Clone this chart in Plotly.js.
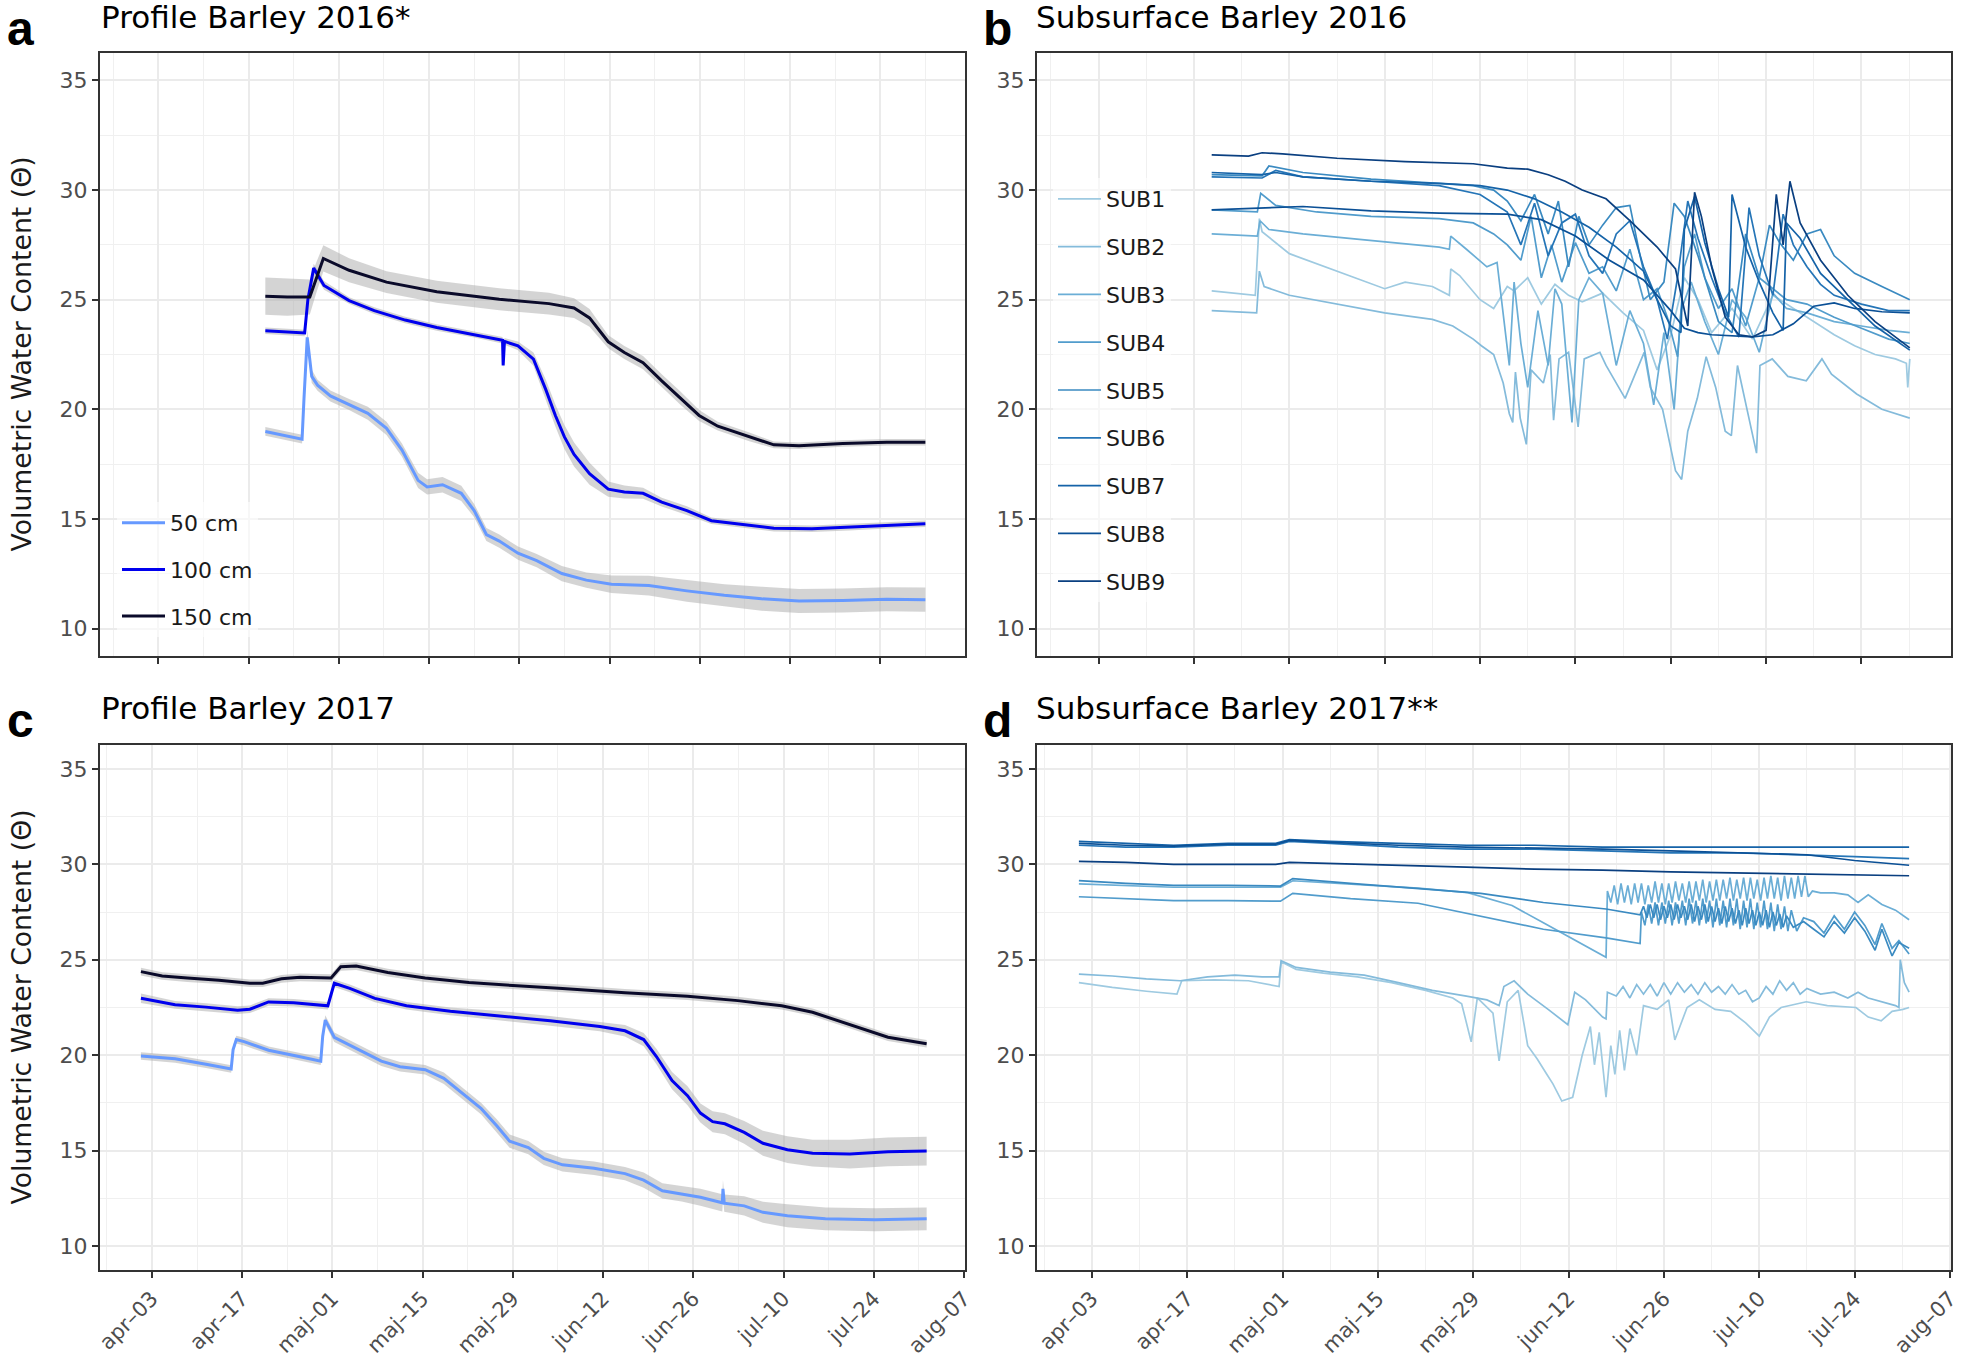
<!DOCTYPE html>
<html>
<head>
<meta charset="utf-8">
<script src="https://cdn.plot.ly/plotly-3.0.1.min.js"></script>
<style>html,body{margin:0;padding:0;background:#fff;}#chart{width:1961px;height:1359px;}</style>
</head>
<body>
<div id="chart"></div>
<script>
// x values: days after 3 April of the panel's year; y: volumetric water content; third value (profiles): band half-width
const tickDays = [0, 14, 28, 42, 56, 70, 84, 98, 112, 126];
const tickLabels = ["apr–03", "apr–17", "maj–01", "maj–15", "maj–29", "jun–12", "jun–26", "jul–10", "jul–24", "aug–07"];
const minorDays = [-7, 7, 21, 35, 49, 63, 77, 91, 105, 119];
const yTicks = [10, 15, 20, 25, 30, 35];
const yMinor = [12.5, 17.5, 22.5, 27.5, 32.5];

const depthNames = ["50 cm", "100 cm", "150 cm"];
const depthColors = ["#6699FF", "#0000EE", "#0A0A2A"];
const subNames = ["SUB1", "SUB2", "SUB3", "SUB4", "SUB5", "SUB6", "SUB7", "SUB8", "SUB9"];
const subColors = ["#9ECAE1", "#84BBDB", "#6BAED6", "#519CCC", "#3A8AC1", "#2575B7", "#1563A8", "#0B5096", "#0A3F80"];

// ---- Profile Barley 2016 ----
const prof2016_50 = [[16.6,18.99,0.2],[19,18.85,0.2],[22.3,18.64,0.2],[22.6,20.5,0.3],[23.1,23.28,0.35],[23.8,21.5,0.3],[24.7,21.1,0.25],[26.7,20.61,0.25],[29.6,20.22,0.25],[32.5,19.82,0.3],[35.4,19.13,0.3],[37.8,18.14,0.3],[40.3,16.76,0.35],[41.7,16.46,0.35],[44.1,16.56,0.35],[47,16.17,0.35],[49,15.38,0.3],[50.9,14.29,0.3],[52.9,13.99,0.3],[55.8,13.44,0.3],[58.7,13.1,0.3],[62.6,12.51,0.35],[66.4,12.21,0.35],[70.3,12.02,0.4],[76.1,11.96,0.45],[82,11.72,0.5],[87.8,11.52,0.5],[93.6,11.36,0.55],[99.4,11.26,0.55],[106.2,11.28,0.55],[113,11.34,0.55],[119,11.32,0.55]];
const prof2016_100 = [[16.6,23.58,0.15],[19,23.55,0.15],[22.7,23.48,0.15],[23.2,25.0,0.2],[24.1,26.44,0.2],[25.7,25.65,0.2],[29.6,24.96,0.15],[33.5,24.5,0.15],[38.3,24.07,0.15],[43.2,23.73,0.15],[49,23.42,0.15],[53.4,23.15,0.15],[53.5,22.0,0.15],[53.7,23.1,0.15],[55.8,22.89,0.2],[58.2,22.29,0.3],[60.1,20.91,0.45],[61.6,19.72,0.5],[63,18.74,0.55],[64.5,17.94,0.55],[66.9,17.06,0.5],[69.8,16.36,0.35],[72.3,16.23,0.3],[75.2,16.17,0.25],[78.1,15.77,0.2],[82,15.38,0.2],[85.8,14.92,0.15],[89.7,14.78,0.15],[95.5,14.58,0.15],[101.4,14.55,0.15],[107.2,14.62,0.15],[113,14.72,0.15],[119,14.78,0.15]];
const prof2016_150 = [[16.6,25.16,0.85],[20,25.12,0.85],[23.5,25.12,0.8],[24.5,26.0,0.7],[25.6,26.88,0.6],[29.6,26.34,0.55],[35.4,25.8,0.5],[43.2,25.36,0.5],[52.9,25.02,0.5],[60.6,24.82,0.5],[64.5,24.62,0.45],[66.9,24.17,0.4],[69.8,23.08,0.3],[72.3,22.59,0.3],[75.2,22.13,0.3],[78.1,21.3,0.3],[81,20.51,0.3],[83.9,19.72,0.25],[86.8,19.23,0.2],[91.7,18.74,0.2],[95.5,18.38,0.15],[99.4,18.34,0.15],[106.2,18.44,0.15],[113,18.5,0.15],[119,18.5,0.15]];

// ---- Profile Barley 2017 ----
const prof2017_50 = [[-1.7,19.96,0.2],[3.6,19.81,0.2],[8.4,19.53,0.2],[12.3,19.28,0.2],[12.6,20.3,0.2],[13.1,20.82,0.2],[14.3,20.71,0.2],[18.1,20.26,0.2],[23,19.92,0.2],[26.2,19.69,0.2],[26.5,21.0,0.2],[26.9,21.84,0.25],[28.3,20.94,0.25],[31.7,20.37,0.25],[35.6,19.69,0.25],[38.5,19.4,0.25],[42.4,19.24,0.25],[45.3,18.79,0.3],[48.2,18.0,0.3],[51.1,17.2,0.3],[53.5,16.3,0.35],[55.5,15.5,0.35],[58.4,15.16,0.35],[60.8,14.6,0.35],[63.7,14.26,0.35],[68.6,14.08,0.35],[73.4,13.8,0.35],[76.3,13.46,0.4],[79.2,12.9,0.4],[82.2,12.74,0.4],[85.1,12.56,0.45],[88.5,12.27,0.45],[88.6,13.0,0.45],[88.8,12.25,0.45],[91.9,12.11,0.5],[94.8,11.77,0.55],[98.6,11.59,0.6],[104.5,11.43,0.6],[112.2,11.38,0.6],[120.2,11.43,0.6]];
const prof2017_100 = [[-1.7,22.98,0.25],[3.6,22.64,0.2],[8.4,22.52,0.2],[13.3,22.36,0.2],[15.2,22.41,0.2],[18.1,22.79,0.2],[22,22.75,0.2],[27.3,22.59,0.2],[28.3,23.77,0.2],[30.7,23.5,0.2],[34.6,22.98,0.2],[39.5,22.59,0.2],[46.3,22.3,0.2],[54,22.07,0.25],[61.8,21.8,0.25],[69.5,21.5,0.25],[73.4,21.28,0.3],[76.3,20.82,0.35],[78.3,19.92,0.4],[80.7,18.67,0.45],[83.1,17.88,0.5],[85.1,16.97,0.5],[87,16.52,0.55],[88.9,16.41,0.55],[91.9,15.96,0.6],[94.8,15.39,0.65],[98.6,15.05,0.7],[102.5,14.87,0.7],[108.3,14.82,0.75],[114.2,14.94,0.75],[120.2,14.98,0.75]];
const prof2017_150 = [[-1.7,24.38,0.2],[1.6,24.15,0.2],[5.5,24.04,0.2],[10.4,23.93,0.2],[15.2,23.77,0.2],[17.2,23.77,0.2],[20.1,24.0,0.2],[23,24.08,0.2],[27.8,24.04,0.2],[29.3,24.63,0.2],[31.7,24.67,0.2],[36.6,24.33,0.2],[42.4,24.04,0.2],[49.2,23.81,0.2],[56,23.65,0.2],[63.7,23.5,0.2],[73.4,23.27,0.2],[83.1,23.09,0.2],[90.9,22.86,0.2],[97.7,22.59,0.2],[102.5,22.25,0.2],[108.3,21.62,0.2],[114.2,20.94,0.2],[120.2,20.6,0.2]];

// ---- Subsurface Barley 2016 ----
const sub2016_1 = [[16.6,25.4],[23.0,25.2],[23.6,28.7],[24.0,28.1],[28,27.1],[35,26.3],[42,25.5],[45,25.8],[49,25.6],[51.5,25.2],[51.7,26.4],[53,26.1],[56,25.0],[58,24.6],[60,25.6],[61,25.4],[63,26.0],[65,24.8],[67,25.7],[69,25.2],[71,24.9],[74,25.3],[77,24.4],[80,23.6],[82,21.8],[84,23.4],[86,26.0],[88,25.0],[90,23.5],[93,24.6],[96,23.2],[99,25.2],[102,24.6],[105,24.0],[108,23.4],[111,22.9],[114,22.5],[117,22.3],[118.6,22.1],[118.8,21.0],[119.1,22.3]];
const sub2016_2 = [[16.6,24.5],[23.2,24.4],[23.6,26.3],[24.3,25.6],[28,25.2],[35,24.8],[42,24.4],[49,24.1],[52,23.8],[55,23.2],[56.2,22.9],[58,22.5],[59.4,21.2],[60.3,19.8],[60.8,19.4],[61.2,21.7],[61.9,19.6],[62.8,18.4],[63.5,21.8],[65.3,21.2],[66.3,22.5],[66.8,19.5],[67.6,22.3],[69,22.6],[70.4,19.2],[71.3,22.3],[73.6,22.6],[74.5,22.0],[77.3,20.5],[80.1,22.6],[81,21.0],[82.8,20.0],[84.7,17.2],[85.6,16.8],[86.5,19.0],[87.9,20.5],[89.2,22.4],[90.6,21.0],[92,19.0],[92.9,18.8],[93.8,22.0],[95.2,20.0],[96.6,18.0],[97.1,22.0],[98.9,22.3],[101.2,21.5],[103.9,21.3],[106.2,22.3],[107.6,21.6],[111.3,20.7],[115,20.0],[119.1,19.6]];
const sub2016_3 = [[16.6,28.0],[23.3,27.9],[23.7,28.6],[25,28.2],[30,28.0],[40,27.7],[50,27.4],[51.5,27.3],[51.7,27.9],[54,27.3],[57,26.5],[58.5,26.7],[59.5,24.0],[60.3,22.0],[61,25.8],[62,23.0],[63,21.0],[64.5,24.5],[66,22.0],[67,25.5],[68,24.8],[69.5,19.4],[70.5,25.0],[72,26.0],[74,25.3],[76,22.0],[78,24.5],[80,23.0],[81.5,20.2],[83,23.5],[84.5,20.0],[85.5,24.5],[87,25.8],[89,24.0],[91,22.5],[93,25.0],[95,24.2],[97,22.6],[99,25.3],[101,24.6],[104,24.4],[108,24.0],[112,23.8],[116,23.6],[119.1,23.5]];
const sub2016_4 = [[16.6,29.1],[23.3,29.0],[23.8,29.85],[26,29.3],[32,29.0],[40,28.8],[50,28.7],[55,28.5],[58,28.0],[60,27.5],[62,26.8],[63.5,28.8],[65,26.0],[66.5,27.5],[68,25.8],[70,27.6],[72,26.2],[74,26.5],[76,25.4],[78,27.3],[80,25.0],[82,25.5],[83.5,24.2],[85,22.4],[86,26.5],[87.5,28.0],[89,26.0],[91,24.6],[93,25.5],[95,23.8],[97,26.0],[99,25.5],[101,25.0],[104,24.8],[108,24.2],[112,23.7],[116,23.2],[119.1,23.0]];
const sub2016_5 = [[16.6,30.7],[24,30.65],[25,31.1],[30,30.8],[40,30.5],[50,30.3],[55,30.2],[58,30.0],[60,29.5],[62,28.6],[64,29.8],[66,28.0],[67.5,29.5],[69,26.5],[70.5,28.8],[72,27.5],[74,28.4],[76,29.2],[78,29.3],[79.5,27.0],[81,25.0],[83,25.8],[84.5,29.4],[86,28.8],[88,27.0],[89.5,25.5],[91,24.0],[93,23.5],[95,28.0],[97,26.0],[98.5,28.4],[100,27.6],[102,26.8],[104,28.0],[106,28.2],[108,27.0],[111,26.2],[115,25.6],[119.1,25.0]];
const sub2016_6 = [[16.6,30.6],[24,30.55],[26,30.9],[30,30.6],[40,30.4],[50,30.2],[56,29.8],[60,29.0],[62,27.5],[64,29.4],[66,27.0],[68,28.5],[70,28.9],[72,27.0],[74,26.2],[76,28.0],[78,28.6],[80,26.5],[82,25.0],[83.5,23.2],[85,26.0],[86.5,29.5],[88,27.8],[90,26.0],[92,24.4],[94,23.3],[95.5,29.2],[97,27.0],[99,25.2],[100.5,28.9],[102,27.5],[104,26.5],[106,25.7],[108,25.2],[112,24.8],[116,24.5],[119.1,24.5]];
const sub2016_7 = [[16.6,30.8],[24,30.7],[26,30.8],[30,30.6],[40,30.4],[50,30.3],[56,30.2],[60,30.0],[64,29.6],[68,29.0],[72,28.3],[76,27.4],[80,26.3],[82,25.0],[84,23.8],[85.5,23.5],[86,28.2],[87.5,29.7],[89,27.6],[91,25.5],[92.5,24.2],[93,29.8],[95,27.4],[97,25.8],[99,24.4],[100.5,23.6],[101,28.5],[103,27.8],[106,26.2],[110,25.0],[114,23.8],[119.1,22.7]];
const sub2016_8 = [[16.6,29.1],[25,29.2],[30,29.25],[40,29.05],[50,28.95],[60,28.9],[65,28.65],[70,27.9],[75,26.8],[80,25.9],[84,24.5],[86,23.7],[87,23.6],[88,23.5],[90,23.4],[93,23.35],[96,23.3],[99,23.4],[102,23.9],[105,24.7],[108,24.85],[111,24.6],[115,24.45],[119.1,24.4]];
const sub2016_9 = [[16.6,31.6],[22,31.55],[24,31.7],[27,31.65],[35,31.45],[45,31.3],[55,31.2],[60,31.0],[63,30.95],[66,30.7],[68.5,30.4],[71,30.0],[74.5,29.6],[78,28.6],[82,27.4],[84.7,26.4],[86.5,23.8],[87.5,29.9],[88.5,28.8],[90,26.5],[92,24.2],[94,23.4],[96,23.3],[98,23.6],[99.5,29.8],[100.5,27.5],[101.5,30.4],[103,28.5],[106,26.8],[110,25.2],[114,24.0],[119.1,22.8]];

// ---- Subsurface Barley 2017 ----
const sub2017_1 = [[-1.9,23.8],[3,23.55],[8,23.35],[12.5,23.2],[13.2,23.9],[18,23.95],[23,23.9],[27.5,23.6],[27.8,24.9],[30,24.5],[34,24.3],[39,24.1],[44,23.8],[49,23.4],[53,23.0],[54.3,22.7],[55.7,20.7],[56.6,23.0],[58.9,22.2],[59.8,19.7],[61,22.8],[62.6,23.4],[64,20.5],[65.4,19.8],[66.8,19.0],[67.7,18.5],[69,17.6],[70.6,17.8],[72,20.0],[73.2,21.5],[73.8,19.5],[74.5,21.2],[75.5,17.8],[76.2,20.5],[76.8,19.0],[77.5,21.3],[78.2,19.2],[79,21.4],[80,20.0],[81,22.6],[83,22.4],[84.7,22.9],[85.6,20.8],[87.4,22.5],[89.2,22.9],[91.5,22.4],[93.8,22.3],[96,21.7],[98,21.0],[99.5,22.0],[101.2,22.5],[104.9,22.8],[108,22.6],[112.2,22.5],[114,22.0],[115.9,21.8],[117.5,22.3],[119.1,22.4],[120,22.5]];
const sub2017_2 = [[-1.9,24.25],[3,24.15],[8,24.0],[13,23.9],[17,24.1],[21,24.2],[25,24.1],[27.5,24.1],[27.8,24.95],[30,24.6],[35,24.35],[40,24.2],[45,23.8],[50,23.4],[55,23.1],[58,22.9],[59.8,22.6],[60.5,23.6],[62,23.9],[64,23.2],[67,22.4],[69.9,21.6],[70.9,23.3],[72.5,22.9],[75,22.0],[75.5,21.9],[75.7,23.3],[77,23.1],[78,23.6],[79,23.0],[80,23.7],[81,23.2],[82,23.7],[83,23.1],[84,23.8],[85,23.2],[86,23.8],[87,23.3],[88,23.7],[89,23.2],[90,23.8],[91,23.3],[92,23.6],[93,23.2],[94,23.7],[95,23.2],[96,23.4],[97,22.8],[98,23.0],[99,23.6],[100,23.2],[101,23.9],[102,23.4],[103,23.8],[104,23.2],[105,23.5],[107,23.2],[109,23.3],[111,23.0],[112.5,23.3],[114,23.0],[116,22.8],[118,22.6],[118.5,22.5],[118.7,25.0],[119.3,23.8],[120,23.3]];
const sub2017_3 = [[-1.9,28.98],[5,28.9],[12,28.8],[20,28.8],[27.7,28.8],[29.5,29.14],[38,28.95],[47.9,28.75],[55.2,28.52],[61.7,27.84],[66.3,26.94],[70.9,26.03],[75.5,25.13],[75.7,28.6],[76.2,28.0],[76.7,28.9],[77.2,27.9],[77.7,29.0],[78.2,28.0],[78.7,28.9],[79.2,27.9],[79.7,29.0],[80.2,28.0],[80.7,29.0],[81.2,27.9],[81.7,28.9],[82.2,28.0],[82.7,29.1],[83.2,28.0],[83.7,29.0],[84.2,27.9],[84.7,29.0],[85.2,28.0],[85.7,29.1],[86.2,28.1],[86.7,29.0],[87.2,28.0],[87.7,29.1],[88.2,28.0],[88.7,29.1],[89.2,28.1],[89.7,29.2],[90.2,28.0],[90.7,29.1],[91.2,28.1],[91.7,29.2],[92.2,28.1],[92.7,29.2],[93.2,28.2],[93.7,29.3],[94.2,28.1],[94.7,29.2],[95.2,28.2],[95.7,29.3],[96.2,28.1],[96.7,29.3],[97.2,28.2],[97.7,29.2],[98.2,28.1],[98.7,29.3],[99.2,28.2],[99.7,29.4],[100.2,28.2],[100.7,29.3],[101.2,28.1],[101.7,29.4],[102.2,28.2],[102.7,29.3],[103.2,28.2],[103.7,29.4],[104.2,28.3],[104.7,29.4],[105.2,28.3],[105.8,28.6],[107,28.5],[109,28.5],[111,28.4],[112.5,28.0],[114,28.4],[116,27.9],[118,27.6],[120,27.1]];
const sub2017_4 = [[-1.9,28.3],[5,28.2],[12,28.1],[20,28.1],[27.7,28.07],[29.5,28.48],[38,28.2],[47.9,27.96],[57.1,27.28],[66.3,26.6],[75.5,26.15],[80.5,25.85],[80.7,27.5],[81.2,26.8],[81.7,27.9],[82.2,26.9],[82.7,28.0],[83.2,26.8],[83.7,28.0],[84.2,26.9],[84.7,28.1],[85.2,26.8],[85.7,28.0],[86.2,26.9],[86.7,28.1],[87.2,26.8],[87.7,28.2],[88.2,26.9],[88.7,28.1],[89.2,26.8],[89.7,28.2],[90.2,26.9],[90.7,28.1],[91.2,26.7],[91.7,28.2],[92.2,26.8],[92.7,28.1],[93.2,26.7],[93.7,28.2],[94.2,26.8],[94.7,28.2],[95.2,26.6],[95.7,28.1],[96.2,26.7],[96.7,28.2],[97.2,26.6],[97.7,28.0],[98.2,26.7],[98.7,28.1],[99.2,26.6],[99.7,28.0],[100.2,26.5],[100.7,27.9],[101.2,26.6],[101.7,27.8],[102.2,26.5],[102.7,27.6],[103.5,26.5],[104.5,27.2],[106,27.0],[107.5,26.4],[109,27.3],[110.5,26.6],[112,27.5],[113.5,26.8],[115,25.8],[116,26.9],[117.5,25.6],[118.5,26.0],[120,25.3]];
const sub2017_5 = [[-1.9,29.15],[5,29.0],[12,28.9],[20,28.9],[27.7,28.86],[29.5,29.25],[38,29.0],[47.9,28.75],[57.1,28.48],[66.3,28.0],[75.5,27.66],[80.5,27.35],[81,27.8],[81.5,27.2],[82,27.9],[82.5,27.2],[83,27.9],[83.5,27.1],[84,27.8],[84.5,27.2],[85,27.9],[85.5,27.1],[86,27.9],[86.5,27.2],[87,27.8],[87.5,27.1],[88,27.9],[88.5,27.0],[89,27.8],[89.5,27.1],[90,27.9],[90.5,27.0],[91,27.8],[91.5,27.0],[92,27.7],[92.5,26.9],[93,27.8],[93.5,27.0],[94,27.7],[94.5,26.9],[95,27.6],[95.5,26.8],[96,27.7],[96.5,26.9],[97,27.6],[97.5,26.8],[98,27.5],[98.5,26.8],[99,27.6],[99.5,26.7],[100,27.5],[100.5,26.8],[101,27.4],[101.5,26.7],[102,27.3],[103,26.7],[104.5,27.0],[106,26.6],[107.5,26.2],[109,27.0],[110.5,26.4],[112,27.2],[113.5,26.5],[115,25.5],[116,26.6],[117.5,25.2],[118.5,25.9],[120,25.6]];
const sub2017_6 = [[-1.9,31.0],[5,30.9],[12,30.9],[20,31.0],[27,31.0],[29,31.2],[35,31.1],[45,30.9],[55,30.8],[65,30.8],[75,30.7],[85,30.6],[95,30.6],[105,30.5],[112,30.4],[120,30.3]];
const sub2017_7 = [[-1.9,31.2],[5,31.1],[12,31.0],[20,31.1],[27,31.1],[29,31.3],[35,31.2],[45,31.1],[55,31.0],[65,31.0],[75,30.9],[85,30.9],[95,30.9],[105,30.9],[112,30.9],[120,30.9]];
const sub2017_8 = [[-1.9,31.1],[5,31.0],[12,30.95],[20,31.05],[27,31.05],[29,31.25],[35,31.15],[45,31.0],[55,30.9],[65,30.85],[75,30.8],[85,30.7],[95,30.6],[105,30.5],[112,30.2],[120,29.95]];
const sub2017_9 = [[-1.9,30.15],[5,30.1],[12,30.0],[20,30.0],[27,30.0],[29,30.1],[35,30.05],[45,29.95],[55,29.85],[65,29.75],[75,29.7],[85,29.6],[95,29.55],[105,29.5],[112,29.45],[120,29.4]];

const panelTitles = ["Profile Barley 2016*", "Subsurface Barley 2016", "Profile Barley 2017", "Subsurface Barley 2017**"];
const panelLetters = ["a", "b", "c", "d"];
const yTitle = "Volumetric Water Content (Θ)";

const W = 1961, H = 1359;
const FONT = 'DejaVu Sans, Verdana, sans-serif';
const traces = [];

function profileTraces(series, xa, ya, showLeg) {
  series.forEach(function (s) {
    const xs = s.map(p => p[0]);
    const up = s.map(p => p[1] + p[2]);
    const lo = s.map(p => p[1] - p[2]);
    traces.push({x: xs.concat(xs.slice().reverse()), y: up.concat(lo.slice().reverse()),
      xaxis: xa, yaxis: ya, mode: 'lines', fill: 'toself', fillcolor: 'rgba(170,170,170,0.5)',
      line: {width: 0, color: 'rgba(0,0,0,0)'}, hoverinfo: 'skip', showlegend: false});
  });
  series.forEach(function (s, i) {
    traces.push({x: s.map(p => p[0]), y: s.map(p => p[1]), xaxis: xa, yaxis: ya, mode: 'lines',
      name: depthNames[i], line: {color: depthColors[i], width: 3}, showlegend: showLeg,
      legend: 'legend', legendgroup: 'd' + i});
  });
}
function subTraces(series, xa, ya, showLeg) {
  series.forEach(function (s, i) {
    traces.push({x: s.map(p => p[0]), y: s.map(p => p[1]), xaxis: xa, yaxis: ya, mode: 'lines',
      name: subNames[i], line: {color: subColors[i], width: 1.7}, showlegend: showLeg,
      legend: 'legend2', legendgroup: 's' + i});
  });
}
profileTraces([prof2016_50, prof2016_100, prof2016_150], 'x', 'y', true);
subTraces([sub2016_1, sub2016_2, sub2016_3, sub2016_4, sub2016_5, sub2016_6, sub2016_7, sub2016_8, sub2016_9], 'x2', 'y2', true);
profileTraces([prof2017_50, prof2017_100, prof2017_150], 'x3', 'y3', false);
subTraces([sub2017_1, sub2017_2, sub2017_3, sub2017_4, sub2017_5, sub2017_6, sub2017_7, sub2017_8, sub2017_9], 'x4', 'y4', false);

const yTickFont = {family: FONT, size: 22, color: '#4D4D4D'};
const xTickFont = {family: FONT, size: 21, color: '#4D4D4D'};
function xAxis(dom, yAnchor, range, labels) {
  return {domain: dom, anchor: yAnchor, range: range, tickmode: 'array', tickvals: tickDays, ticktext: tickLabels,
    showticklabels: labels, tickangle: -45, tickfont: xTickFont, ticklabeloverflow: 'allow',
    ticks: 'outside', ticklen: 6, tickwidth: 2, tickcolor: '#333333',
    showline: true, mirror: true, linecolor: '#333333', linewidth: 2, showgrid: true, gridcolor: '#EBEBEB', gridwidth: 2,
    zeroline: false, minor: {tickmode: 'array', tickvals: minorDays, showgrid: true, gridcolor: '#F0F0F0', gridwidth: 1, ticks: ''}};
}
function yAxis(dom, xAnchor) {
  return {domain: dom, anchor: xAnchor, range: [8.75, 36.25], tickmode: 'array', tickvals: yTicks,
    tickfont: yTickFont, ticks: 'outside', ticklen: 6, tickwidth: 2, tickcolor: '#333333',
    showline: true, mirror: true, linecolor: '#333333', linewidth: 2, showgrid: true, gridcolor: '#EBEBEB', gridwidth: 2,
    zeroline: false, minor: {tickmode: 'array', tickvals: yMinor, showgrid: true, gridcolor: '#F0F0F0', gridwidth: 1, ticks: ''}};
}
const xL = [100 / W, 965 / W], xR = [1037 / W, 1951 / W];
const yT = [1 - 656 / H, 1 - 53 / H], yB = [1 - 1270 / H, 1 - 745 / H];
const r2016 = [-9.05, 125.15], r2017 = [-8.05, 126.15];

const ann = [];
const titleX = [99, 1034, 99, 1034];
const titleY = [17, 17, 708, 708];
const letterX = [5, 981, 5, 981];
const letterTop = [0, 0, 692, 692];
for (let i = 0; i < 4; i++) {
  ann.push({text: panelTitles[i], xref: 'paper', yref: 'paper', x: titleX[i] / W, y: 1 - titleY[i] / H,
    xanchor: 'left', yanchor: 'middle', showarrow: false,
    font: {family: FONT, size: 31, color: '#000000'}});
  ann.push({text: '<b>' + panelLetters[i] + '</b>', xref: 'paper', yref: 'paper', x: letterX[i] / W, y: 1 - letterTop[i] / H,
    xanchor: 'left', yanchor: 'top', showarrow: false,
    font: {family: 'Liberation Sans, Arial, sans-serif', size: 48, color: '#000000'}});
}
[354.5, 1007.5].forEach(function (cy) {
  ann.push({text: yTitle, xref: 'paper', yref: 'paper', x: 21 / W, y: 1 - cy / H, textangle: -90,
    xanchor: 'center', yanchor: 'middle', showarrow: false,
    font: {family: FONT, size: 26.7, color: '#1A1A1A'}});
});

const legFont = {family: FONT, size: 22, color: '#1A1A1A'};
const layout = {
  width: W, height: H, margin: {l: 0, r: 0, t: 0, b: 0},
  paper_bgcolor: '#FFFFFF', plot_bgcolor: '#FFFFFF',
  showlegend: true,
  xaxis: xAxis(xL, 'y', r2016, false), yaxis: yAxis(yT, 'x'),
  xaxis2: xAxis(xR, 'y2', r2016, false), yaxis2: yAxis(yT, 'x2'),
  xaxis3: xAxis(xL, 'y3', r2017, true), yaxis3: yAxis(yB, 'x3'),
  xaxis4: xAxis(xR, 'y4', r2017, true), yaxis4: yAxis(yB, 'x4'),
  legend: {x: 117 / W, y: 1 - 502 / H, xanchor: 'left', yanchor: 'top', bgcolor: 'rgba(255,255,255,0.6)',
    font: legFont, tracegroupgap: 15, itemwidth: 43},
  legend2: {x: 1053 / W, y: 1 - 178 / H, xanchor: 'left', yanchor: 'top', bgcolor: 'rgba(255,255,255,0.6)',
    font: legFont, tracegroupgap: 16.2, itemwidth: 43},
  annotations: ann
};
Plotly.newPlot('chart', traces, layout, {staticPlot: true, displayModeBar: false});
</script>
</body>
</html>
